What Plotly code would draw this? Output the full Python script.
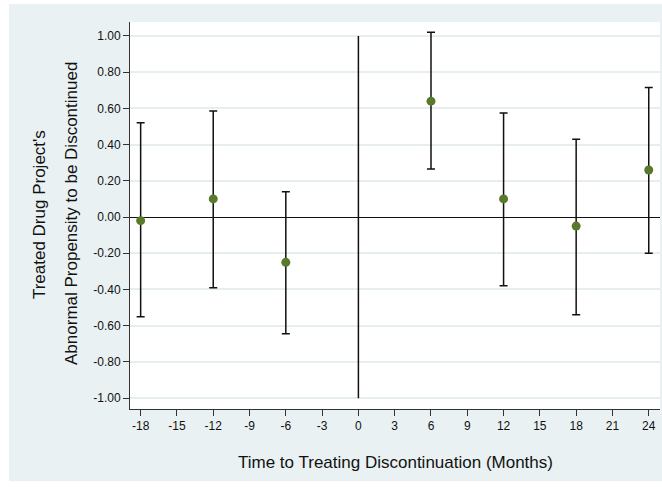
import plotly.graph_objects as go

# Event-study estimates with 95% confidence bounds
months = [-18, -12, -6, 6, 12, 18, 24]
estimate = [-0.02, 0.10, -0.25, 0.64, 0.10, -0.05, 0.26]
upper = [0.52, 0.585, 0.14, 1.02, 0.575, 0.43, 0.715]
lower = [-0.55, -0.39, -0.645, 0.265, -0.38, -0.54, -0.20]

x_ticks = list(range(-18, 25, 3))
x_tick_labels = [str(v) for v in x_ticks]
y_ticks = [-1.0, -0.8, -0.6, -0.4, -0.2, 0.0, 0.2, 0.4, 0.6, 0.8, 1.0]
y_tick_labels = [f"{v:.2f}" for v in y_ticks]

err_plus = [u - e for u, e in zip(upper, estimate)]
err_minus = [e - l for e, l in zip(estimate, lower)]

FONT = "Liberation Sans, Arial, sans-serif"
OUTER_BG = "#eaf1f3"
GRID = "#e6eef0"
TITLE_SIZE = 17

fig = go.Figure()
fig.add_trace(go.Scatter(
    x=months, y=estimate, mode="markers",
    marker=dict(color="#5a7a2b", size=9, line=dict(width=0)),
    error_y=dict(type="data", symmetric=False, array=err_plus, arrayminus=err_minus,
                 color="#111111", thickness=1.5, width=4),
    showlegend=False,
))

# Outer panel and white plotting region
fig.add_shape(type="rect", xref="paper", yref="paper", x0=-0.2283, x1=1.01, y0=-0.187, y1=1.0465,
              fillcolor=OUTER_BG, line=dict(width=0), layer="below")
fig.add_shape(type="rect", xref="paper", yref="paper", x0=0, x1=1, y0=0, y1=1,
              fillcolor="white", line=dict(width=0), layer="below")

# Event time marker at month 0
fig.add_shape(type="line", xref="x", yref="y", x0=0, x1=0, y0=-1, y1=1,
              line=dict(color="#111111", width=1.5))

title_font = dict(family=FONT, size=TITLE_SIZE, color="#111111")
fig.add_annotation(text="Treated Drug Project's", xref="paper", yref="paper",
                   x=-0.171, y=0.502, textangle=-90, showarrow=False,
                   xanchor="center", yanchor="middle", font=title_font)
fig.add_annotation(text="Abnormal Propensity to be Discontinued", xref="paper", yref="paper",
                   x=-0.1094, y=0.504, textangle=-90, showarrow=False,
                   xanchor="center", yanchor="middle", font=title_font)
fig.add_annotation(text="Time to Treating Discontinuation (Months)", xref="paper", yref="paper",
                   x=0.5, y=-0.1395, showarrow=False,
                   xanchor="center", yanchor="middle", font=title_font)

fig.update_layout(
    width=662, height=487, autosize=False,
    margin=dict(l=130, r=2, t=22, b=78, pad=0),
    paper_bgcolor="white", plot_bgcolor="rgba(0,0,0,0)",
    font=dict(family=FONT, size=12, color="#111111"),
    xaxis=dict(range=[-18.88, 24.93], tickmode="array", tickvals=x_ticks, ticktext=x_tick_labels,
               showgrid=False, zeroline=False, showline=True, linecolor="#333333", linewidth=1,
               ticks="outside", ticklen=6, tickcolor="#333333", tickwidth=1,
               tickfont=dict(family=FONT, size=12, color="#111111")),
    yaxis=dict(range=[-1.06, 1.077], tickmode="array", tickvals=y_ticks, ticktext=y_tick_labels,
               showgrid=True, gridcolor=GRID, gridwidth=1.5,
               zeroline=True, zerolinecolor="#111111", zerolinewidth=1.2,
               showline=True, linecolor="#333333", linewidth=1,
               ticks="outside", ticklen=6, tickcolor="#333333", tickwidth=1,
               tickfont=dict(family=FONT, size=12, color="#111111")),
)

fig.write_html("out.html")
